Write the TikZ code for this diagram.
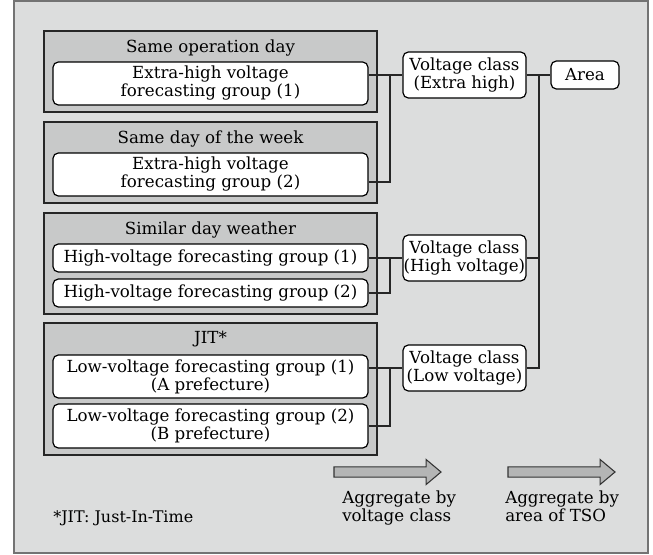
\documentclass[tikz,border=0pt]{standalone}
\usepackage{fontspec}
\setmainfont{DejaVu Serif}
\usepackage{tikz}
\usetikzlibrary{shapes.arrows, positioning, calc}
\definecolor{framegray}{RGB}{220,221,221}
\definecolor{groupgray}{RGB}{200,201,201}
\definecolor{arrowgray}{RGB}{180,181,181}
\newcommand{\boxfont}{\fontsize{12.5}{13.5}\selectfont}
\newcommand{\notefont}{\fontsize{12}{13.5}\selectfont}

\begin{document}
\begin{tikzpicture}[
        x=0.75pt, y=-0.75pt,
        node distance=6pt,
        grp/.style={rectangle, draw=black!85, fill=groupgray, minimum width=249.75pt, inner sep=0pt, line width=0.9pt},
        grptitle/.style={inner sep=0pt, font=\boxfont},
        fcgroup/.style={rectangle, draw=black, fill=white, minimum width=236.25pt, align=center, rounded corners=4pt, inner sep=0pt, font=\boxfont, line width=0.9pt},
        vclass/.style={rectangle, draw=black, fill=white, minimum width=92.25pt, minimum height=34.5pt, align=center, rounded corners=4pt, inner sep=0pt, font=\boxfont, line width=0.9pt},
        aggarrow/.style={single arrow, draw=black!80, fill=arrowgray, minimum height=80.25pt, minimum width=18pt, single arrow head extend=5.6pt, single arrow tip angle=80, inner sep=3.4pt, line width=0.8pt},
        link/.style={line width=1.2pt, black!85}
    ]

    \useasboundingbox (0,0) rectangle (653,554);
    \draw[draw=black!55, fill=framegray, line width=0.9pt] (14,1) rectangle (648,553);

    % forecasting method groups
    \node[grp, minimum height=60.75pt] (sameop) at (210.5,71.5) {};
    \node[grptitle] (sameoptitle) at (210.5,48) {Same operation day};
    \node[fcgroup, minimum height=32.25pt] (eh1) at (210.5,83.5) {Extra-high voltage\\forecasting group (1)};

    \node[grp, minimum height=60.75pt] (sameweek) at (210.5,162.5) {};
    \node[grptitle] (sameweektitle) at (210.5,139) {Same day of the week};
    \node[fcgroup, minimum height=32.25pt] (eh2) at (210.5,174.5) {Extra-high voltage\\forecasting group (2)};

    \node[grp, minimum height=75.75pt] (similar) at (210.5,263.5) {};
    \node[grptitle] (similartitle) at (210.5,230) {Similar day weather};
    \node[fcgroup, minimum height=21pt] (hv1) at (210.5,258) {High-voltage forecasting group (1)};
    \node[fcgroup, minimum height=21pt] (hv2) at (210.5,293) {High-voltage forecasting group (2)};

    \node[grp, minimum height=99pt] (jit) at (210.5,389) {};
    \node[grptitle] (jittitle) at (210.5,339) {JIT*};
    \node[fcgroup, minimum height=32.25pt] (lv1) at (210.5,376.5) {Low-voltage forecasting group (1)\\(A prefecture)};
    \node[fcgroup, minimum height=33pt] (lv2) at (210.5,426) {Low-voltage forecasting group (2)\\(B prefecture)};

    % voltage classes and area
    \node[vclass] (vceh) at (464.5,75) {Voltage class\\(Extra high)};
    \node[vclass] (vchv) at (464.5,258) {Voltage class\\(High voltage)};
    \node[vclass] (vclv) at (464.5,368) {Voltage class\\(Low voltage)};
    \node[vclass, minimum width=51pt, minimum height=21pt] (area) at (585,75) {Area};

    \coordinate (jeh) at (390,75);
    \coordinate (jhv) at (390,258);
    \coordinate (jlv) at (390,368);
    \coordinate (jarea) at (539,75);

    \draw[link] (vceh.west -| eh1.east) -- (vceh.west);
    \draw[link] ([yshift=-5.6pt]eh2.east) -| (jeh);
    \draw[link] (vchv.west -| hv1.east) -- (vchv.west);
    \draw[link] (hv2.east) -| (jhv);
    \draw[link] (vclv.west -| lv1.east) -- (vclv.west);
    \draw[link] (lv2.east) -| (jlv);

    \draw[link] (vceh.east) -- (area.west);
    \draw[link] (vchv.east) -- (vchv.east -| jarea);
    \draw[link] (vclv.east) -| (jarea);

    % aggregation steps
    \node[aggarrow] (aggvolt) at (384.5,472) {};
    \node[aggarrow] (aggarea) at (558.5,472) {};
    \node[grptitle, align=left, anchor=north west] (aggvolttext) at (342,491) {Aggregate by\\voltage class};
    \node[grptitle, align=left, anchor=north west] (aggareatext) at (505,491) {Aggregate by\\area of TSO};

    \node[inner sep=0pt, font=\notefont, anchor=west] (jitnote) at (53,518) {*JIT: Just-In-Time};

\end{tikzpicture}
\end{document}
